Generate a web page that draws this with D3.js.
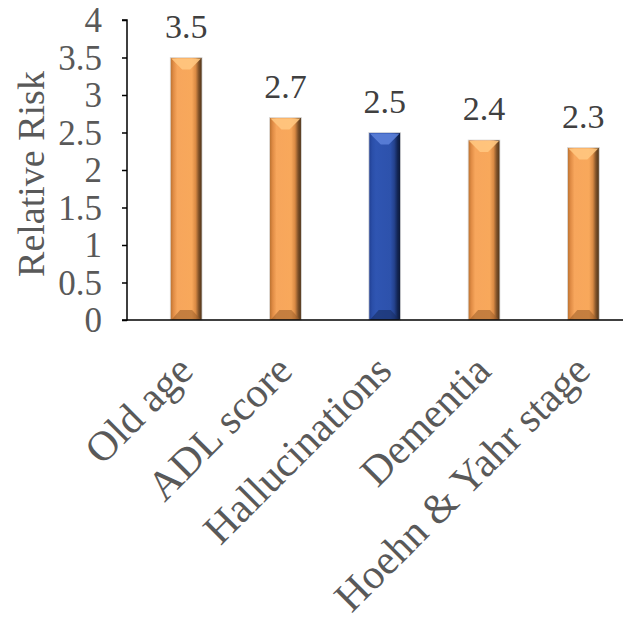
<!DOCTYPE html>
<html>
<head>
<meta charset="utf-8">
<script src="https://cdn.jsdelivr.net/npm/d3@7/dist/d3.min.js"></script>
<style>
  html, body { margin: 0; padding: 0; background: #fff; }
  svg text { font-family: "Liberation Serif", "Times New Roman", serif; }
</style>
</head>
<body>
<svg id="chart" width="623" height="621"></svg>
<script>
// Risk factors and their relative risk
const categories = ["Old age", "ADL score", "Hallucinations", "Dementia", "Hoehn & Yahr stage"];
const values = [3.5, 2.7, 2.5, 2.4, 2.3];
const highlight = [false, false, true, false, false];
const yTicks = [0, 0.5, 1, 1.5, 2, 2.5, 3, 3.5, 4];

const svg = d3.select("#chart");
const W = 623;
const axisLeftX = 127, axisBottomY = 320, axisTopY = 20;

const x = d3.scaleBand().domain(categories)
  .range([136.5, 633]).paddingInner(0.68).paddingOuter(0.34);
const y = d3.scaleLinear().domain([0, 4]).range([axisBottomY, axisTopY]);

// Bevelled bar fills
const defs = svg.append("defs");
function bevel(id, stops) {
  const g = defs.append("linearGradient").attr("id", id)
    .attr("x1", "0%").attr("x2", "100%").attr("y1", "0%").attr("y2", "0%");
  stops.forEach(([o, c]) => g.append("stop").attr("offset", o).attr("stop-color", c));
}
bevel("orange", [["0%", "#b8702f"], ["10%", "#e08c45"], ["22%", "#f7a65c"], ["68%", "#f8a85b"], ["80%", "#d98a44"], ["90%", "#7d5028"], ["100%", "#4a3117"]]);
bevel("blue", [["0%", "#1f3d8e"], ["10%", "#2a4ea8"], ["22%", "#2f55b2"], ["68%", "#2d52ac"], ["80%", "#24428e"], ["90%", "#132656"], ["100%", "#0b1733"]]);

const bars = svg.append("g").selectAll("g").data(categories).join("g");
bars.append("rect")
  .attr("x", d => x(d))
  .attr("y", (d, i) => y(values[i]))
  .attr("width", x.bandwidth())
  .attr("height", (d, i) => y(0) - y(values[i]))
  .attr("fill", (d, i) => highlight[i] ? "url(#blue)" : "url(#orange)")
  .attr("stroke", "#dcdcdc").attr("stroke-width", 0.8);

// top bevel: light wedge pointing down
bars.append("path")
  .attr("d", (d, i) => {
    const x0 = x(d), x1 = x0 + x.bandwidth(), t = y(values[i]), cx = (x0 + x1) / 2;
    return `M${x0 + 1},${t + 1} L${x1 - 1},${t + 1} L${cx + 4},${t + 12} L${cx - 4},${t + 12} Z`;
  })
  .attr("fill", (d, i) => highlight[i] ? "#5b80d8" : "#ffc680").attr("opacity", 0.9);
// bottom bevel: shaded wedge
bars.append("path")
  .attr("d", (d) => {
    const x0 = x(d), x1 = x0 + x.bandwidth(), b0 = y(0), cx = (x0 + x1) / 2;
    return `M${x0 + 1},${b0} L${x1 - 1},${b0} L${cx + 6},${b0 - 10} L${cx - 6},${b0 - 10} Z`;
  })
  .attr("fill", (d, i) => highlight[i] ? "#15295c" : "#9a5d28").attr("opacity", 0.55);

// value labels
svg.append("g").selectAll("text").data(categories).join("text")
  .attr("x", d => x(d) + x.bandwidth() / 2)
  .attr("y", (d, i) => y(values[i]) - 20)
  .attr("text-anchor", "middle")
  .attr("font-size", 34).attr("fill", "#404040")
  .text((d, i) => values[i].toFixed(1));

// y axis
const yAxis = svg.append("g").attr("transform", `translate(${axisLeftX},0)`)
  .call(d3.axisLeft(y).tickValues(yTicks).tickSize(5).tickPadding(20).tickFormat(d3.format("")));
yAxis.select(".domain").attr("stroke", "#000").attr("stroke-width", 1.5)
  .attr("d", `M-5,${axisTopY}H0V${axisBottomY}H-5`);
yAxis.selectAll(".tick line").attr("stroke", "#000").attr("stroke-width", 1.5);
yAxis.selectAll("text").attr("font-size", 35).attr("fill", "#595959")
  .attr("dy", "0.34em");

// x axis
const xAxis = svg.append("g").attr("transform", `translate(0,${axisBottomY})`)
  .call(d3.axisBottom(x).tickSize(0).tickPadding(0));
xAxis.select(".domain").attr("stroke", "#000").attr("stroke-width", 1.5)
  .attr("d", `M${axisLeftX},0H${W}`);
xAxis.selectAll(".tick text")
  .attr("font-size", 42).attr("fill", "#595959")
  .attr("text-anchor", "end")
  .attr("dy", null).attr("y", 0)
  .attr("transform", "translate(9,53) rotate(-45)");

// axis title
svg.append("text")
  .attr("transform", `translate(44,${(y(0) + y(4)) / 2 + 4}) rotate(-90)`)
  .attr("text-anchor", "middle")
  .attr("font-size", 38).attr("fill", "#595959")
  .text("Relative Risk");
</script>
</body>
</html>
